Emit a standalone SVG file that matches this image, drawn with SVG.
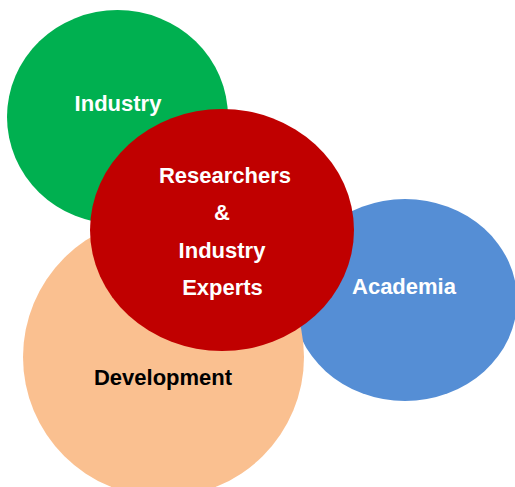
<svg xmlns="http://www.w3.org/2000/svg" width="515" height="487" viewBox="0 0 515 487">
<style>
text{font-family:"Liberation Sans",Arial,sans-serif;font-weight:bold;font-size:22px;text-anchor:middle}
.w{fill:#ffffff}
.k{fill:#000000}
</style>
<rect width="515" height="487" fill="#ffffff"/>
<g id="academia">
<ellipse cx="405" cy="300" rx="112" ry="101" fill="#558ED5"/>
<text class="w" x="404" y="294" font-size="22.5">Academia</text>
</g>
<g id="industry">
<ellipse cx="117.5" cy="117" rx="110.5" ry="107" fill="#00B050"/>
<text class="w" x="118" y="111" font-size="22.5">Industry</text>
</g>
<g id="development">
<ellipse cx="163.5" cy="357" rx="140.5" ry="140" fill="#FAC090"/>
<text class="k" x="163" y="385" font-size="23.5">Development</text>
</g>
<g id="researchers">
<ellipse cx="222" cy="230" rx="132" ry="121" fill="#C00000"/>
<text class="w" x="225" y="183">Researchers</text>
<text class="w" x="222" y="220">&amp;</text>
<text class="w" x="222" y="258">Industry</text>
<text class="w" x="222.5" y="295">Experts</text>
</g>
<g id="connectors"/>
</svg>
